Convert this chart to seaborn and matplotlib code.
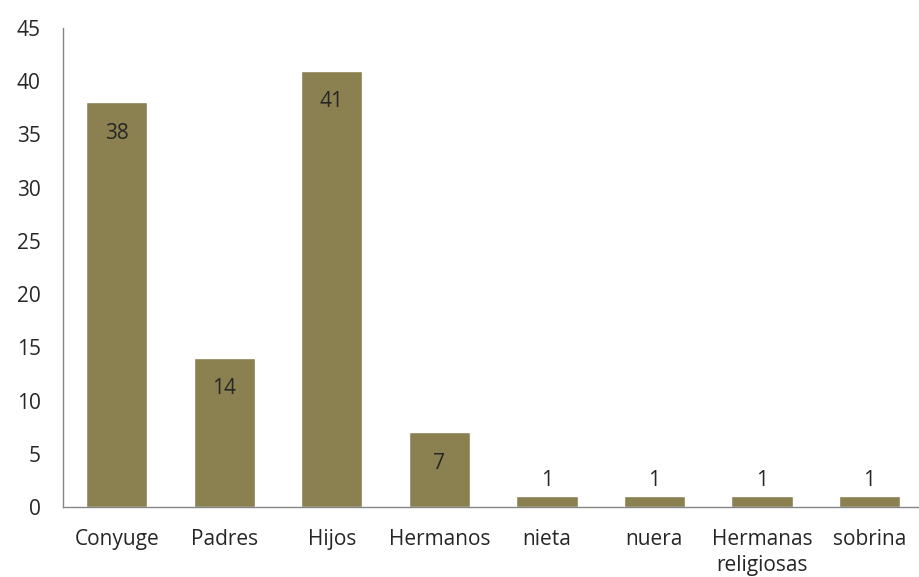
import matplotlib
matplotlib.use("Agg")
import matplotlib.pyplot as plt
import pandas as pd
import seaborn as sns

categories = ["Conyuge", "Padres", "Hijos", "Hermanos", "nieta", "nuera",
              "Hermanas\nreligiosas", "sobrina"]
values = [38, 14, 41, 7, 1, 1, 1, 1]
y_ticks = [0, 5, 10, 15, 20, 25, 30, 35, 40, 45]

sns.set_theme(style="white")
plt.rcParams["font.family"] = ["Open Sans", "DejaVu Sans"]

df = pd.DataFrame({"categoria": categories, "valor": values})

fig = plt.figure(figsize=(9.2, 5.77), dpi=100)
ax = fig.add_axes([0.0685, 0.1213, 0.935, 0.8302])
sns.barplot(data=df, x="categoria", y="valor", color="#8B8050",
            saturation=1, width=0.57, ax=ax)

for i, v in enumerate(values):
    if v >= 5:
        ax.text(i, v - 2.9, str(v), ha="center", va="center", fontsize=15,
                color="#262626")
    else:
        ax.text(i, v + 1.5, str(v), ha="center", va="center", fontsize=15,
                color="#262626")

ax.set_ylim(0, 45)
ax.set_xlim(-0.5, 7.5)
ax.set_yticks(y_ticks)
ax.tick_params(axis="both", length=0, labelsize=15, colors="#262626")
ax.tick_params(axis="y", pad=16)
ax.tick_params(axis="x", pad=16)
for lbl in ax.get_xticklabels():
    lbl.set_linespacing(1.3)
ax.set_xlabel("")
ax.set_ylabel("")
for s in ["top", "right"]:
    ax.spines[s].set_visible(False)
for s in ["left", "bottom"]:
    ax.spines[s].set_color("#868686")
    ax.spines[s].set_linewidth(1.0)

fig.savefig("out.png", dpi=100)
